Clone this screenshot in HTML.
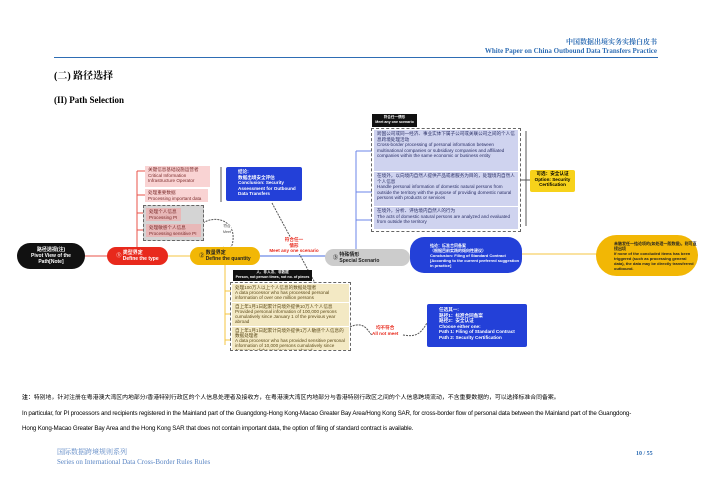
<!DOCTYPE html>
<html><head><meta charset="utf-8"><style>
*{margin:0;padding:0;box-sizing:border-box}
body{width:710px;height:501px;background:#fff;position:relative;overflow:hidden;font-family:"Liberation Sans","Noto Sans CJK SC",sans-serif}
.a{position:absolute}
.serif{font-family:"Liberation Serif","Noto Serif CJK SC",serif}
.t{font-size:4.6px;line-height:5.6px}
.pill{position:absolute;border-radius:14px;display:flex;align-items:center;justify-content:center;font-weight:bold;font-size:5px;line-height:6px}
.pink{background:#f9d3d3;color:#7a2a2a;padding:1px 3px}
.lav{background:#cfd3ef;color:#2a2f66;padding:1px 3px;margin-bottom:1px}
.yel{background:#f3e9c4;color:#5c4a1a;padding:1px 3px;margin-bottom:1px;line-height:5.1px}
</style></head><body>
<div class="a serif" style="right:53px;top:37px;font-size:7px;color:#2e6db4;font-weight:bold">中国数据出境实务实操白皮书</div>
<div class="a serif" style="right:53px;top:47px;font-size:7px;color:#2e6db4;font-weight:bold">White Paper on China Outbound Data Transfers Practice</div>
<div class="a" style="left:54px;top:57px;width:604px;height:1px;background:#2e6db4"></div>
<div class="a serif" style="left:54px;top:67px;font-size:10px;font-weight:bold">(二) 路径选择</div>
<div class="a serif" style="left:54px;top:95px;font-size:9px;font-weight:bold">(II) Path Selection</div>

<svg class="a" style="left:0;top:0" width="710" height="501">
<g fill="none" stroke-width="1">
<line x1="85" y1="256" x2="108" y2="256" stroke="#e8534a"/>
<line x1="168" y1="256" x2="191" y2="256" stroke="#f5c542"/>
<line x1="260" y1="256" x2="326" y2="256" stroke="#4a6ee0"/>
<line x1="410" y1="256" x2="411" y2="256" stroke="#e8534a"/>
<line x1="522" y1="254" x2="597" y2="254" stroke="#f5c542"/>
<path d="M137 247 V171 M137 171 H146 M137 195 H146 M137 213 H146 M137 230 H146" stroke="#e8534a"/>
<path d="M356 249 V151 M356 151 H372 M356 192 H372 M356 220 H372" stroke="#6b86e8"/>
<path d="M225 265 V345 M225 291 H231 M225 314 H231 M225 340 H231" stroke="#f5c542"/>
<line x1="221" y1="167" x2="221" y2="202" stroke="#555"/>
<line x1="526" y1="131" x2="526" y2="226" stroke="#555"/>
<line x1="521" y1="180" x2="530" y2="180" stroke="#555"/>
<path d="M203 223 C215 215,235 220,233 240 C232 250,228 250,223 247" stroke="#555" stroke-dasharray="2 1"/>
<path d="M272 203 L315 283" stroke="#555" stroke-dasharray="2 1"/>
<path d="M350 327 C365 320,368 332,372 335 M403 335 C415 337,420 335,427 323" stroke="#555" stroke-dasharray="2 1"/>
</g></svg>

<div class="pill" style="left:17px;top:243px;width:68px;height:26px;background:#111;color:#fff;text-align:center">路径透视(注)<br>Pivot View of the<br>Path[Note]</div>
<div class="pill" style="left:107px;top:247px;width:61px;height:18px;background:#e8291c;color:#fff">①&nbsp;<span>类型界定<br>Define the type</span></div>
<div class="pill" style="left:190px;top:247px;width:70px;height:18px;background:#f2b705;color:#222">②&nbsp;<span>数量界定<br>Define the quantity</span></div>
<div class="pill" style="left:325px;top:249px;width:85px;height:17px;background:#ccc;color:#222;justify-content:flex-start;padding-left:8px">③&nbsp;<span>特殊情形<br>Special Scenario</span></div>

<div class="a t" style="left:145px;top:166px;width:65px">
<div class="pink" style="height:21px">关键信息基础设施运营者<br>Critical Information<br>Infrastructure Operator</div>
<div class="pink" style="margin-top:2px;width:63px">处理重要数据<br>Processing important data</div>
</div>
<div class="a t" style="left:143px;top:205px;width:61px;height:36px;background:#d4d4d4;border:1px dashed #666;padding:2px">
<div class="pink" style="background:#e8b8b8;width:35px">处理个人信息<br>Processing PI</div>
<div class="pink" style="background:#e8b8b8;margin-top:3px">处理敏感个人信息<br>Processing sensitive PI</div>
</div>
<div class="a t" style="left:223px;top:224px;font-size:3.6px;color:#444;text-align:center;background:#fff">符合<br>Meet</div>
<div class="a t" style="left:226px;top:167px;width:76px;height:34px;background:#2340d8;color:#fff;border-radius:2px;padding:2px 2px 0 12px;font-weight:bold">结论:<br>数据出境安全评估<br>Conclusion: Security Assessment for Outbound Data Transfers</div>
<div class="a t" style="left:266px;top:237px;width:56px;color:#e8291c;font-weight:bold;text-align:center;background:#fff">符合任一<br>情形<br>Meet any one scenario</div>

<div class="a" style="left:372px;top:114px;width:45px;height:13px;background:#111;color:#fff;font-size:3.6px;line-height:5px;text-align:center;padding-top:1px;font-weight:bold">符合任一情形<br>Meet any one scenario</div>
<div class="a t" style="left:371px;top:128px;width:150px;height:104px;border:1px dashed #666;padding:1px 2px">
<div class="lav" style="height:41px">跨国公司或同一经济、事业实体下属子公司或关联公司之间的个人信息跨境处理活动<br>Cross-border processing of personal information between multinational companies or subsidiary companies and affiliated companies within the same economic or business entity</div>
<div class="lav" style="height:34px">在境外，以向境内自然人提供产品或者服务为目的，处理境内自然人个人信息<br>Handle personal information of domestic natural persons from outside the territory with the purpose of providing domestic natural persons with products or services</div>
<div class="lav" style="height:22px">在境外，分析、评估境内自然人的行为<br>The acts of domestic natural persons are analyzed and evaluated from outside the territory</div>
</div>
<div class="a t" style="left:530px;top:170px;width:45px;height:22px;background:#f7d21a;text-align:center;font-weight:bold;padding-top:1px;border-radius:2px">可选：安全认证<br>Option: Security Certification</div>

<div class="pill" style="left:410px;top:237px;width:112px;height:36px;background:#2340d8;color:#fff;font-size:4px;line-height:5px;justify-content:flex-start;padding-left:20px">结论：标准合同备案<br>（根据目前实践的倾向性建议）<br>Conclusion: Filing of Standard Contract<br>[According to the current preferred suggestion in practice]</div>
<div class="pill" style="left:596px;top:235px;width:102px;height:41px;border-radius:21px;background:#f2b705;color:#222;font-size:4px;line-height:5px;justify-content:flex-start;padding-left:18px">未触发任一结论项的(如处理一般数据)，则可直接出境<br>If none of the concluded items has been triggered (such as processing general data), the data may be directly transferred outbound.</div>

<div class="a" style="left:233px;top:270px;width:79px;height:11px;background:#111;color:#fff;font-size:3.6px;line-height:4.8px;text-align:center;font-weight:bold">人、非人次、非数据<br>Person, not person times, not no. of pieces</div>
<div class="a t" style="left:230px;top:282px;width:121px;height:69px;border:1px dashed #666;padding:1px;overflow:hidden">
<div class="yel" style="height:18px">处理100万人以上个人信息的数据处理者<br>A data processor who has processed personal information of over one million persons</div>
<div class="yel" style="height:23px">自上年1月1日起累计向境外提供10万人个人信息<br>Provided personal information of 100,000 persons cumulatively since January 1 of the previous year abroad</div>
<div class="yel" style="height:24px">自上年1月1日起累计向境外提供1万人敏感个人信息的数据处理者<br>A data processor who has provided sensitive personal information of 10,000 persons cumulatively since January 1 of the previous year abroad</div>
</div>
<div class="a t" style="left:372px;top:325px;color:#e8291c;font-weight:bold;text-align:center;background:#fff">均不符合<br>All not meet</div>
<div class="a t" style="left:427px;top:304px;width:100px;height:43px;background:#2340d8;color:#fff;border-radius:2px;padding:3px 2px 0 12px;font-weight:bold">任选其一:<br>路径1：标准合同备案<br>路径2：安全认证<br>Choose either one:<br>Path 1: Filing of Standard Contract<br>Path 2: Security Certification</div>

<div class="a" style="left:22px;top:395px;font-size:5.9px;line-height:7px;white-space:nowrap"><b>注</b>：特别地，针对注册在粤港澳大湾区内地部分/香港特别行政区的个人信息处理者及接收方，在粤港澳大湾区内地部分与香港特别行政区之间的个人信息跨境流动，不含重要数据的，可以选择标准合同备案。</div>
<div class="a" style="left:22px;top:406px;width:690px;font-size:6.2px;line-height:15px;letter-spacing:-0.15px;white-space:nowrap">In particular, for PI processors and recipients registered in the Mainland part of the Guangdong-Hong Kong-Macao Greater Bay Area/Hong Kong SAR, for cross-border flow of personal data between the Mainland part of the Guangdong-<br>Hong Kong-Macao Greater Bay Area and the Hong Kong SAR that does not contain important data, the option of filing of standard contract is available.</div>
<div class="a serif" style="left:57px;top:447px;font-size:7px;color:#5b86c4">国际数据跨境规则系列</div>
<div class="a serif" style="left:57px;top:458px;font-size:7px;color:#5b86c4">Series on International Data Cross-Border Rules Rules</div>
<div class="a serif" style="left:636px;top:451px;font-size:6px;color:#2e6db4;font-weight:bold">10 / 55</div>
</body></html>
